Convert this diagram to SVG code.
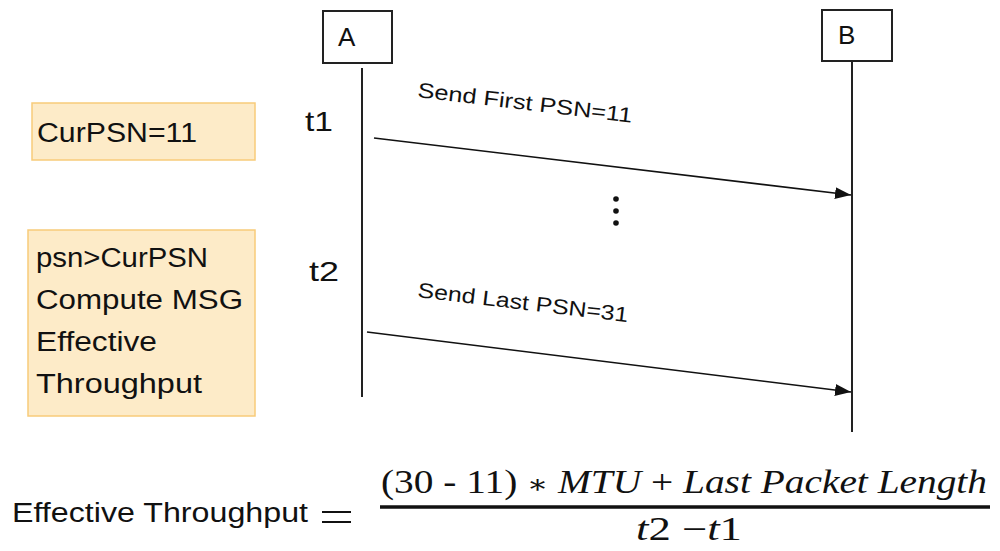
<svg xmlns="http://www.w3.org/2000/svg" width="1000" height="551" viewBox="0 0 1000 551">
  <defs>
    <marker id="arrowhead" markerWidth="16" markerHeight="12" refX="16" refY="6" orient="auto" markerUnits="userSpaceOnUse">
      <path d="M0,0 L16,6 L0,12 Z" fill="#111"/>
    </marker>
    <style>
      .lane { fill: #fff; stroke: #222; stroke-width: 2; }
      .life { stroke: #222; stroke-width: 2; }
      .msg { stroke: #111; stroke-width: 1.6; fill: none; marker-end: url(#arrowhead); }
      .note { fill: #FDEBC8; stroke: #F8CB7A; stroke-width: 1.5; }
      .sans { font-family: "Liberation Sans", Arial, sans-serif; fill: #111; }
      .lbl { font-size: 26px; }
      .note-txt { font-size: 27px; }
      .msg-txt { font-size: 21px; }
      .math { font-family: "Liberation Serif", "DejaVu Serif", serif; fill: #111; font-size: 33px; }
      .it { font-style: italic; }
    </style>
  </defs>

  <!-- participants -->
  <g id="participant-A">
    <rect class="lane" x="323" y="11" width="69" height="52"/>
    <text class="sans lbl" x="338" y="46">A</text>
    <line class="life" x1="362" y1="68" x2="362" y2="397"/>
  </g>
  <g id="participant-B">
    <rect class="lane" x="822" y="10" width="70" height="51"/>
    <text class="sans lbl" x="838" y="44">B</text>
    <line class="life" x1="852" y1="61" x2="852" y2="432"/>
  </g>

  <!-- time marks -->
  <g id="time-t1">
    <text class="sans" font-size="28" x="305" y="131" textLength="28" lengthAdjust="spacingAndGlyphs">t1</text>
  </g>
  <g id="time-t2">
    <text class="sans" font-size="28" x="309" y="281" textLength="30" lengthAdjust="spacingAndGlyphs">t2</text>
  </g>

  <!-- state notes -->
  <g id="note-curpsn">
    <rect class="note" x="32" y="103" width="223" height="57"/>
    <text class="sans note-txt" x="37" y="142" textLength="160" lengthAdjust="spacingAndGlyphs">CurPSN=11</text>
  </g>
  <g id="note-compute">
    <rect class="note" x="28" y="230" width="227" height="186"/>
    <text class="sans note-txt" x="36" y="267" textLength="172" lengthAdjust="spacingAndGlyphs">psn&gt;CurPSN</text>
    <text class="sans note-txt" x="36" y="309" textLength="207" lengthAdjust="spacingAndGlyphs">Compute MSG</text>
    <text class="sans note-txt" x="36" y="351" textLength="121" lengthAdjust="spacingAndGlyphs">Effective</text>
    <text class="sans note-txt" x="36" y="393" textLength="166" lengthAdjust="spacingAndGlyphs">Throughput</text>
  </g>

  <!-- messages -->
  <g id="connectors">
    <line class="msg" x1="374" y1="138" x2="851" y2="195"/>
    <line class="msg" x1="367" y1="332" x2="851" y2="392"/>
  </g>
  <g id="message-labels">
    <text class="sans msg-txt" transform="translate(417,97) rotate(6.8)" textLength="216" lengthAdjust="spacingAndGlyphs">Send First PSN=11</text>
    <text class="sans msg-txt" transform="translate(417,297) rotate(6.8)" textLength="212" lengthAdjust="spacingAndGlyphs">Send Last PSN=31</text>
  </g>

  <!-- continuation dots -->
  <g id="ellipsis" fill="#111">
    <circle cx="616" cy="199" r="2.8"/>
    <circle cx="616" cy="211" r="2.8"/>
    <circle cx="616" cy="223" r="2.8"/>
  </g>

  <!-- throughput formula -->
  <g id="formula">
    <text class="sans" font-size="27" x="12" y="522" textLength="296" lengthAdjust="spacingAndGlyphs">Effective Throughput</text>
    <line x1="322" y1="512" x2="351" y2="512" stroke="#111" stroke-width="2"/>
    <line x1="322" y1="522" x2="351" y2="522" stroke="#111" stroke-width="2"/>
    <text class="math" x="381" y="493" textLength="606" lengthAdjust="spacingAndGlyphs">(30 - 11) <tspan font-size="26">∗</tspan> <tspan class="it">MTU</tspan> + <tspan class="it">Last Packet Length</tspan></text>
    <line x1="380" y1="507" x2="990" y2="507" stroke="#111" stroke-width="3.5"/>
    <text class="math" x="636" y="540" textLength="106" lengthAdjust="spacingAndGlyphs"><tspan class="it">t</tspan>2 −<tspan class="it">t</tspan>1</text>
  </g>
</svg>
